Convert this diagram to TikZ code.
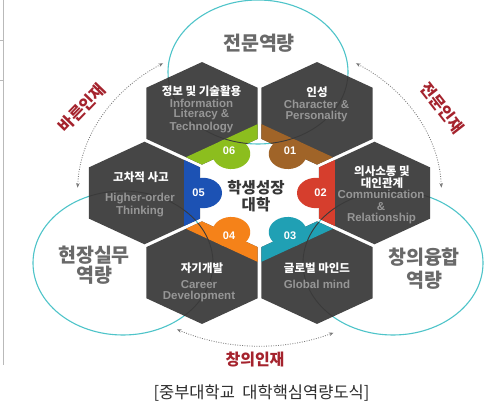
\documentclass[tikz,border=0pt]{standalone}
\usepackage{fontspec}
\setmainfont{Liberation Sans}
\newfontfamily\kr{Noto Sans CJK KR}
\usetikzlibrary{arrows.meta}
\definecolor{hexgray}{RGB}{70,70,70}
\definecolor{hexdark}{RGB}{58,58,58}
\definecolor{engray}{RGB}{150,150,150}
\definecolor{circ}{RGB}{78,196,201}
\definecolor{capred}{RGB}{165,35,45}
\definecolor{ctitle}{RGB}{105,105,105}
\definecolor{cmid}{RGB}{55,55,55}
\definecolor{arcgray}{RGB}{120,120,120}
\definecolor{capgray}{RGB}{45,45,45}
\definecolor{c01}{RGB}{160,100,40}
\definecolor{c02}{RGB}{214,62,45}
\definecolor{c03}{RGB}{32,160,180}
\definecolor{c04}{RGB}{245,130,25}
\definecolor{c05}{RGB}{28,82,180}
\definecolor{c06}{RGB}{140,190,30}
\begin{document}
\begin{tikzpicture}[x=1pt,y=1pt,
  krw/.style={font=\kr\bfseries\fontsize{11.5}{12}\selectfont, text=white, inner sep=0pt},
  eng/.style={font=\bfseries\fontsize{11.5}{12}\selectfont, text=engray, inner sep=0pt},
  num/.style={font=\bfseries\fontsize{11}{12}\selectfont, text=white, inner sep=0pt},
  circlabel/.style={font=\kr\bfseries\fontsize{19.5}{22}\selectfont, text=ctitle, inner sep=0pt},
  midlabel/.style={font=\kr\bfseries\fontsize{15.5}{17}\selectfont, text=cmid, inner sep=0pt},
  arclabel/.style={font=\kr\bfseries\fontsize{16}{18}\selectfont, text=capred, inner sep=0pt},
  ring/.style={draw=circ, line width=1.1pt},
  ringdark/.style={draw=hexdark, line width=0.9pt},
  arcarrow/.style={draw=arcgray, line width=0.8pt, dash pattern=on 0.9pt off 1.5pt,
     {Stealth[length=4.5pt,width=3.5pt]}-{Stealth[length=4.5pt,width=3.5pt]}},
  artifact/.style={draw=gray!55, line width=0.8pt},
]
\useasboundingbox (0,0) rectangle (500,404);
\fill[white] (0,0) rectangle (500,404);

% left-edge artifacts
\draw[artifact] (3,404) -- (3,39);
\draw[artifact] (0,364) -- (3,364) (0,324) -- (3,324);

% circles
\coordinate (ct) at (258,332);
\coordinate (cl) at (123,141);
\coordinate (cr) at (393,141);
\draw[ring] (ct) ellipse[x radius=90, y radius=72];
\draw[ring] (cl) ellipse[x radius=90, y radius=72];
\draw[ring] (cr) ellipse[x radius=90, y radius=72];

\node[circlabel] (tTop) at (259,361) {전문역량};
\node[circlabel] (tLeft1) at (94,149) {현장실무};
\node[circlabel] (tLeft2) at (94,129) {역량};
\node[circlabel] (tRight1) at (424,147) {창의융합};
\node[circlabel] (tRight2) at (424,124) {역량};

% dotted arcs
\begin{scope}[shift={(259.5,211)}]
  \coordinate (aL) at (122:182 and 153);
  \coordinate (aR) at (58:182 and 153);
  \coordinate (aB) at (243:182 and 153);
\end{scope}
\draw[arcarrow] (aL) arc[start angle=122, end angle=178, x radius=182, y radius=153];
\draw[arcarrow] (aR) arc[start angle=58, end angle=2, x radius=182, y radius=153];
\draw[arcarrow] (aB) arc[start angle=243, end angle=294, x radius=182, y radius=153];
\node[arclabel, rotate=46] (lL) at (82,296) {바른인재};
\node[arclabel, rotate=-52] (lR) at (442,296) {전문인재};
\node[arclabel] (lB) at (255,44) {창의인재};

% hexagons
\foreach \k/\ang in {1/60,2/0,3/-60,4/-120,5/180,6/120}{
  \begin{scope}[shift={(259.5,211)}, yscale=0.8, rotate=\ang]
    \path (115,0) ++(30:64.1) coordinate (h\k-0)
          (115,0) ++(90:64.1) coordinate (h\k-1)
          (115,0) ++(150:64.1) coordinate (h\k-2)
          (115,0) ++(210:64.1) coordinate (h\k-3)
          (115,0) ++(270:64.1) coordinate (h\k-4)
          (115,0) ++(330:64.1) coordinate (h\k-5);
    \fill[hexgray] (h\k-0)--(h\k-1)--(h\k-2)--(h\k-3)--(h\k-4)--(h\k-5)--cycle;
    \begin{scope}
      \clip (h\k-0)--(h\k-1)--(h\k-2)--(h\k-3)--(h\k-4)--(h\k-5)--cycle;
      \fill[c0\k] (59.5,-70) -- (75.5,-70) -- (75.5,70) -- (59.5,70) -- cycle;
    \end{scope}
    \fill[c0\k] (56.5,0) circle[radius=19];
    \node[num] (n\k) at (61,0) {0\k};
  \end{scope}
}
% faint circle lines over the hexagons
\foreach \k in {1,...,6}{
  \begin{scope}
    \clip (h\k-0)--(h\k-1)--(h\k-2)--(h\k-3)--(h\k-4)--(h\k-5)--cycle;
    \draw[ringdark] (ct) ellipse[x radius=90, y radius=72];
    \draw[ringdark] (cl) ellipse[x radius=90, y radius=72];
    \draw[ringdark] (cr) ellipse[x radius=90, y radius=72];
  \end{scope}
}

% centre
\node[midlabel] (mid1) at (256,216) {학생성장};
\node[midlabel] (mid2) at (256,199) {대학};

% 06
\node[krw] (t6a) at (201.5,313) {정보 및 기술활용};
\node[eng] (t6b) at (201.5,301) {Information};
\node[eng] (t6c) at (201.5,289) {Literacy \&};
\node[eng] (t6d) at (201.5,276) {Technology};
% 01
\node[krw] (t1a) at (317,312) {인성};
\node[eng] (t1b) at (316.5,300) {Character \&};
\node[eng] (t1c) at (316.5,287) {Personality};
% 02
\node[krw] (t2a) at (382,233) {의사소통 및};
\node[krw] (t2b) at (382,221) {대인관계};
\node[eng] (t2c) at (381,210) {Communication};
\node[eng] (t2d) at (381,197) {\&};
\node[eng] (t2e) at (381.5,185) {Relationship};
% 05
\node[krw] (t5a) at (141,227) {고차적 사고};
\node[eng] (t5b) at (140,205) {Higher-order};
\node[eng] (t5c) at (140,192) {Thinking};
% 04
\node[krw] (t4a) at (202,136) {자기개발};
\node[eng] (t4b) at (199,119) {Career};
\node[eng] (t4c) at (199,107) {Development};
% 03
\node[krw] (t3a) at (317,136) {글로벌 마인드};
\node[eng] (t3b) at (317,120) {Global mind};

% caption
\node[font=\kr\fontsize{16.5}{18}\selectfont, text=capgray, inner sep=0pt] (cap) at (261.5,11)
  {[중부대학교\hspace{0.45em}대학핵심역량도식]};
\end{tikzpicture}
\end{document}
